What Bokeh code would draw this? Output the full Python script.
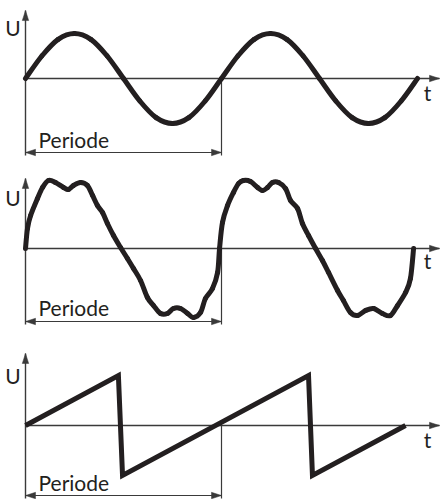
from bokeh.plotting import figure
from bokeh.layouts import column
from bokeh.models import Range1d
from bokeh.core.properties import value
from bokeh.embed import file_html
from bokeh.resources import INLINE

# ---------------- data (t in periods, U in units of the sine amplitude) ----------------
sine_t = [0, 1/12, 2/12, 3/12, 4/12, 5/12, 6/12, 7/12, 8/12, 9/12, 10/12, 11/12, 1,
          13/12, 14/12, 15/12, 16/12, 17/12, 18/12, 19/12, 20/12, 21/12, 22/12, 23/12, 2]
sine_u = [0, 0.5, 0.87, 1.0, 0.87, 0.5, 0, -0.5, -0.87, -1.0, -0.87, -0.5, 0,
          0.5, 0.87, 1.0, 0.87, 0.5, 0, -0.5, -0.87, -1.0, -0.87, -0.5, 0]

dist_t = [0.000, 0.010, 0.026, 0.061, 0.087, 0.117, 0.153, 0.194, 0.219, 0.245, 0.281,
          0.316, 0.342, 0.367, 0.393, 0.418, 0.449, 0.485, 0.520, 0.551, 0.587, 0.622,
          0.653, 0.689, 0.724, 0.755, 0.791, 0.827, 0.857, 0.893, 0.918, 0.954, 0.980,
          0.990, 1.005, 1.031, 1.061, 1.087, 1.112, 1.148, 1.184, 1.209, 1.235, 1.260,
          1.291, 1.327, 1.352, 1.388, 1.413, 1.444, 1.480, 1.515, 1.546, 1.592, 1.622,
          1.658, 1.694, 1.735, 1.776, 1.821, 1.862, 1.898, 1.939, 1.964, 1.980]
dist_u = [0.000, 0.444, 0.733, 1.111, 1.356, 1.511, 1.467, 1.356, 1.311, 1.400, 1.467,
          1.400, 1.178, 0.956, 0.800, 0.556, 0.289, 0.022, -0.222, -0.444, -0.711, -1.089,
          -1.267, -1.444, -1.444, -1.333, -1.333, -1.444, -1.533, -1.422, -1.111, -0.889, -0.533,
          0.000, 0.578, 0.956, 1.244, 1.444, 1.511, 1.489, 1.356, 1.289, 1.356, 1.467,
          1.467, 1.333, 1.067, 0.889, 0.556, 0.289, 0.000, -0.267, -0.533, -0.933, -1.156,
          -1.422, -1.489, -1.378, -1.333, -1.444, -1.489, -1.267, -0.978, -0.667, 0.000]

saw_t = [0.000, 0.474, 0.495, 1.444, 1.464, 1.939]
saw_u = [0.000, 1.11, -1.11, 1.11, -1.11, 0.000]

axis_labels = ["U", "t"]
period_label = "Periode"
period_length = 1.0

# ---------------- layout / style ----------------
W = 440
X0, X1 = -25 / 196, 415 / 196
INK = "#231f20"
AX = "#3a3a3a"
FONT = value("Lato")
FS = "21px"
TEXT_DY = 8  # px, compensates the text box offset

panels = [
    dict(h=165, y0=-1.9333, y1=1.7333, arrow=-1.644, top=1.51, ulab=0.956, tlab=-0.489, plab=-1.533),
    dict(h=165, y0=-1.8222, y1=1.8444, arrow=-1.622, top=1.556, ulab=0.956, tlab=-0.444, plab=-1.489),
    dict(h=169, y0=-1.6444, y1=2.1111, arrow=-1.556, top=1.60, ulab=0.933, tlab=-0.489, plab=-1.444),
]


def head(p, tx, ty, dx, dy, sx, sy, L=10.0, hw=3.2):
    bx, by = -dx * L, -dy * L
    nx, ny = -dy * hw, dx * hw
    xs = [tx, tx + (bx + nx) / sx, tx + (bx - nx) / sx]
    ys = [ty, ty + (by + ny) / sy, ty + (by - ny) / sy]
    p.patch(xs, ys, fill_color=AX, line_color=AX, line_width=0.5)


def smooth(p, xs, ys, **kw):
    n = len(xs)
    x0, y0, x1, y1, cx0, cy0, cx1, cy1 = [], [], [], [], [], [], [], []
    for i in range(n - 1):
        a = max(i - 1, 0)
        d = min(i + 2, n - 1)
        x0.append(xs[i]); y0.append(ys[i]); x1.append(xs[i + 1]); y1.append(ys[i + 1])
        cx0.append(xs[i] + (xs[i + 1] - xs[a]) / 6); cy0.append(ys[i] + (ys[i + 1] - ys[a]) / 6)
        cx1.append(xs[i + 1] - (xs[d] - xs[i]) / 6); cy1.append(ys[i + 1] - (ys[d] - ys[i]) / 6)
    p.bezier(x0=x0, y0=y0, x1=x1, y1=y1, cx0=cx0, cy0=cy0, cx1=cx1, cy1=cy1, **kw)


figs = []
for k, cfg in enumerate(panels):
    h = cfg["h"]
    p = figure(width=W, height=h, x_range=Range1d(X0, X1), y_range=Range1d(cfg["y0"], cfg["y1"]),
               output_backend="svg", toolbar_location=None, min_border=0,
               x_axis_location=None, y_axis_location=None)
    p.grid.visible = False
    p.outline_line_color = None
    p.background_fill_color = "white"
    p.border_fill_color = "white"
    sx = W / (X1 - X0)
    sy = h / (cfg["y1"] - cfg["y0"])
    ext = 3 / sy
    tdy = TEXT_DY / sy
    tip_x = X1 - 1 / sx

    # axes
    p.line([0, tip_x], [0, 0], line_color=AX, line_width=1.4)
    head(p, tip_x, 0, 1, 0, sx, sy)
    p.line([0, 0], [cfg["arrow"] - ext, cfg["top"]], line_color=AX, line_width=1.4)
    head(p, 0, cfg["top"], 0, 1, sx, sy)
    # period marker
    p.line([period_length, period_length], [0, cfg["arrow"] - ext], line_color=AX, line_width=1.2)
    p.line([0, period_length], [cfg["arrow"], cfg["arrow"]], line_color=AX, line_width=1.2)
    head(p, 0, cfg["arrow"], -1, 0, sx, sy)
    head(p, period_length, cfg["arrow"], 1, 0, sx, sy)

    # waves
    if k == 0:
        smooth(p, sine_t, sine_u, line_color=INK, line_width=5, line_cap="round")
    elif k == 1:
        smooth(p, dist_t, dist_u, line_color=INK, line_width=5, line_cap="round")
    else:
        p.line(saw_t, saw_u, line_color=INK, line_width=5, line_join="miter", line_cap="butt")

    # labels
    p.text(x=[-12.5 / 196], y=[cfg["ulab"] + tdy], text=[axis_labels[0]], text_font=FONT,
           text_font_size=FS, text_align="center", text_baseline="alphabetic", text_color=INK)
    p.text(x=[402 / 196], y=[cfg["tlab"] + tdy], text=[axis_labels[1]], text_font=FONT,
           text_font_size=FS, text_align="center", text_baseline="alphabetic", text_color=INK)
    p.text(x=[13 / 196], y=[cfg["plab"] + tdy], text=[period_label], text_font=FONT,
           text_font_size=FS, text_align="left", text_baseline="alphabetic", text_color=INK)
    figs.append(p)

layout = column(*figs, spacing=0)
open("out.html", "w").write(file_html(layout, INLINE))
